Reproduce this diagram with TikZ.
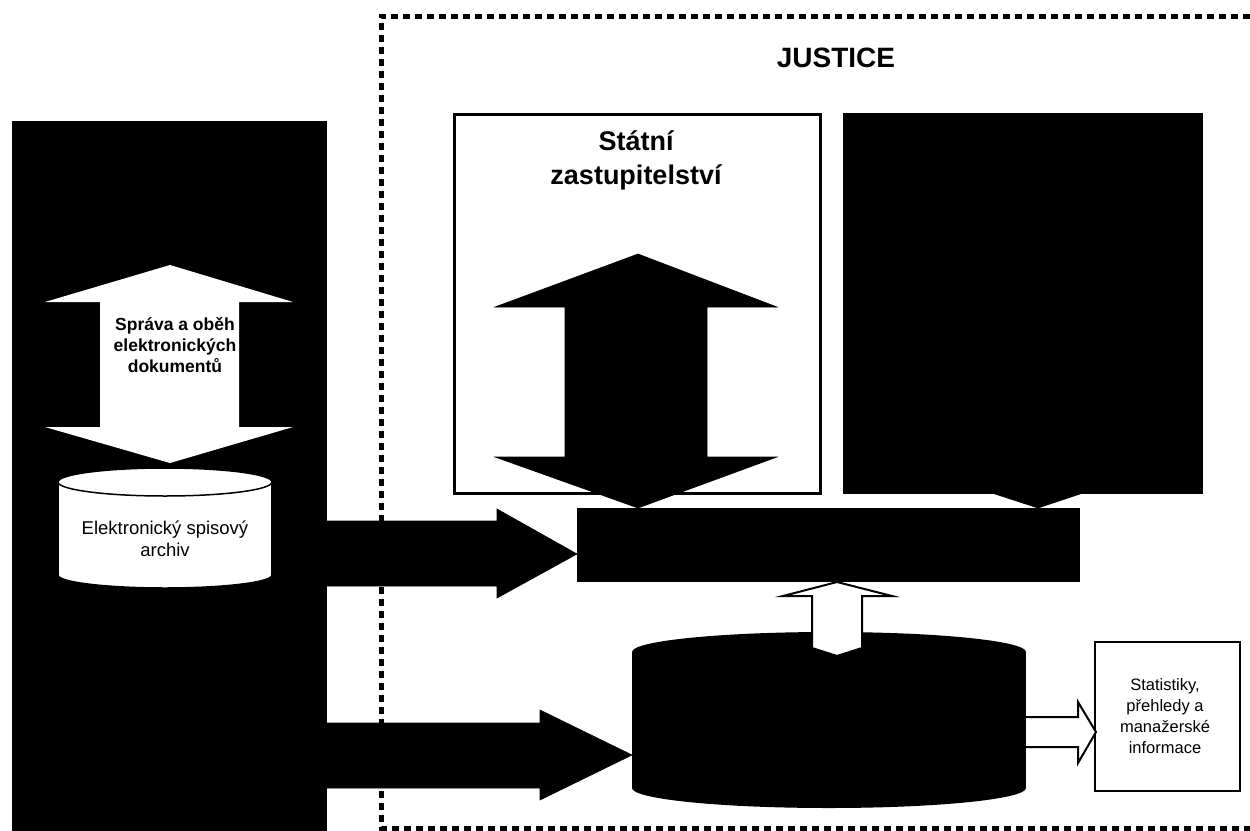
\documentclass[tikz,border=0pt]{standalone}
\usepackage{fontspec}
\setmainfont{Liberation Sans}
\begin{document}
\begin{tikzpicture}[x=1pt,y=-1pt,
  solid fill/.style={fill=black,draw=black,line width=0.6},
  white block/.style={fill=white,draw=black,line width=2},
  frame line/.style={line width=5,dash pattern=on 7pt off 5pt},
  panel/.style={inner sep=0,anchor=north west},
  heading/.style={font=\bfseries\fontsize{28}{33}\selectfont},
  arrowlabel/.style={font=\bfseries\fontsize{17.5}{21}\selectfont,align=center},
  plainlabel/.style={font=\fontsize{18.5}{22}\selectfont,align=center},
  smalllabel/.style={font=\fontsize{16.5}{21}\selectfont,align=center}]
\useasboundingbox (0,0) rectangle (1250,830);

% left column: document management system
\node[panel,fill=black,minimum width=315,minimum height=712] (dms) at (12,121) {};
\fill[white] (170,265) -- (293,302) -- (239,302) -- (239,427) -- (293,427)
  -- (170,463) -- (45,427) -- (100,427) -- (100,302) -- (45,302) -- cycle;
\node[arrowlabel] (flow) at (175,345) {Správa a oběh\\elektronických\\dokumentů};

% archive cylinder
\filldraw[fill=white,draw=black,line width=1.5] (165,575) ellipse [x radius=107,y radius=13];
\fill[white] (58,482) rectangle (272,575);
\draw[line width=1.5] (58,482) -- (58,575) (272,482) -- (272,575);
\filldraw[fill=white,draw=black,line width=1.5] (165,482) ellipse [x radius=107,y radius=14];
\node[plainlabel] (arch) at (165,539) {Elektronický spisový\\archiv};

% justice domain frame
\draw[frame line] (1250,16) -- (381,16) -- (381,828) -- (1250,828);
\node[heading] (just) at (836,58) {JUSTICE};

% prosecution office box with its double arrow
\node[panel,draw=black,line width=2.5,fill=white,minimum width=366,minimum height=379] (sz) at (453,113) {};
\node[heading,align=center,font=\bfseries\fontsize{27}{34}\selectfont] (szt) at (636,160) {Státní\\zastupitelství};
\fill[solid fill] (638,254) -- (777,307) -- (707,307) -- (707,457) -- (777,457)
  -- (638,508) -- (495,457) -- (565,457) -- (565,307) -- (495,307) -- cycle;

% court box with arrow into the shared bar
\node[panel,fill=black,minimum width=360,minimum height=381] (court) at (843,113) {};
\fill[solid fill] (992,493) -- (1083,493) -- (1038,508) -- cycle;

% shared application bar
\node[panel,fill=black,minimum width=503,minimum height=74] (bar) at (577,508) {};

% arrows from the left column
\fill[solid fill] (325,521) -- (497,521) -- (497,509) -- (577,554) -- (497,598)
  -- (497,586) -- (325,586) -- cycle;
\fill[solid fill] (325,723) -- (540,723) -- (540,710) -- (632,755) -- (540,800)
  -- (540,788) -- (325,788) -- cycle;

% central database cylinder
\fill[black] (829,788) ellipse [x radius=197,y radius=20];
\fill[black] (632,652) rectangle (1026,788);
\fill[black] (829,652) ellipse [x radius=197,y radius=20];

% data flow from the database up to the bar
\filldraw[white block] (837,582) -- (892,596) -- (862,596) -- (862,648) -- (837,656)
  -- (812,648) -- (812,596) -- (783,596) -- cycle;

% statistics output
\node[panel,draw=black,line width=2,fill=white,minimum width=145,minimum height=149] (stat) at (1094,641) {};
\node[smalllabel] (statt) at (1165,716) {Statistiky,\\přehledy a\\manažerské\\informace};
\filldraw[white block] (1026,717) -- (1078,717) -- (1078,702) -- (1096,732) -- (1078,763)
  -- (1078,747) -- (1026,747);
\end{tikzpicture}
\end{document}
